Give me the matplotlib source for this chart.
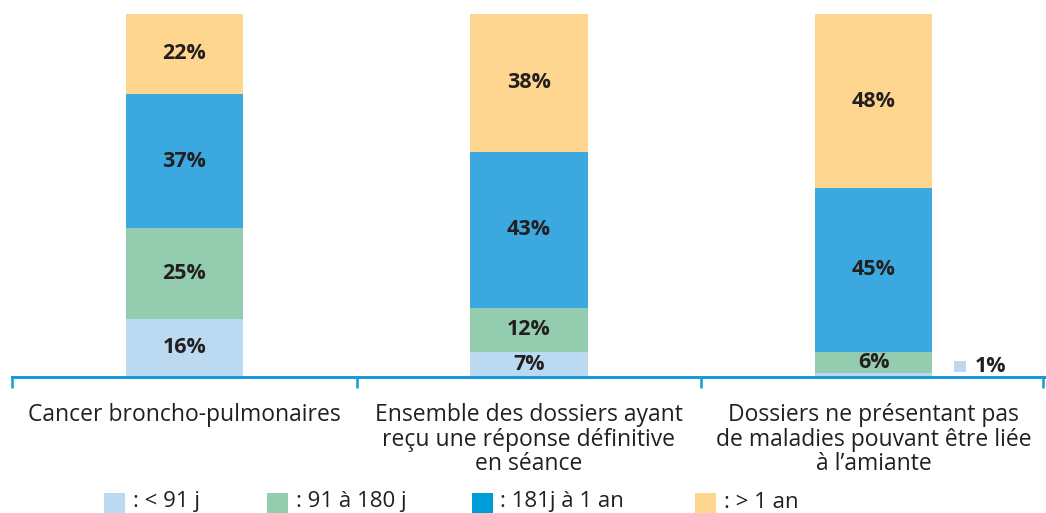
import matplotlib.pyplot as plt
from matplotlib.patches import Rectangle

# -- data ---------------------------------------------------------------
categories = [
    "Cancer broncho-pulmonaires",
    "Ensemble des dossiers ayant\nreçu une réponse définitive\nen séance",
    "Dossiers ne présentant pas\nde maladies pouvant être liée\nà l\u2019amiante",
]
series_names = [": < 91 j", ": 91 à 180 j", ": 181j à 1 an", ": > 1 an"]
lt_91 = [16, 7, 1]
d91_180 = [25, 12, 6]
d181_1an = [37, 43, 45]
gt_1an = [22, 38, 48]
# ------------------------------------------------------------------------

bar_colors = ["#BBDAF2", "#93CCAE", "#3BA8DF", "#FFD68F"]
legend_colors = ["#BBDAF2", "#93CCAE", "#009BD9", "#FFD68F"]
axis_color = "#1A9AD6"
text_color = "#231F20"

plt.rcParams['font.family'] = ['Open Sans', 'DejaVu Sans']

fig = plt.figure(figsize=(10.46, 5.13), dpi=100)
W, H = 1046, 513
ax = fig.add_axes([12 / W, 1 - 377 / H, 1034 / W, (377 - 14) / H])

series = [lt_91, d91_180, d181_1an, gt_1an]
x = list(range(len(categories)))
bottom = [0] * len(categories)
for vals, col in zip(series, bar_colors):
    ax.bar(x, vals, width=0.34, bottom=bottom, color=col, linewidth=0, zorder=2)
    for i, v in enumerate(vals):
        if v >= 5:
            ax.text(i, bottom[i] + v / 2, f"{v}%", ha="center", va="center",
                    fontsize=15.5, fontweight="bold", color=text_color, zorder=3)
    bottom = [b + v for b, v in zip(bottom, vals)]

# small value shown outside the third bar
ax.add_patch(Rectangle((2.233, 1.4), 0.034, 3.0, color=bar_colors[0],
                       clip_on=False, linewidth=0))
ax.text(2.292, 2.9, f"{lt_91[2]}%", ha="left", va="center", fontsize=15.5,
        fontweight="bold", color=text_color)

ax.set_xlim(-0.5, 2.5)
ax.set_ylim(0, 100)
for s in ["top", "right", "left"]:
    ax.spines[s].set_visible(False)
ax.spines["bottom"].set_color(axis_color)
ax.spines["bottom"].set_linewidth(2.2)
ax.set_yticks([])
ax.set_xticks([-0.5, 0.5, 1.5, 2.49])
ax.set_xticklabels([])
ax.tick_params(axis="x", length=8, width=1.8, color=axis_color)

for i, cat in enumerate(categories):
    ax.text(i, -7.2, cat, ha="center", va="top", fontsize=16.5,
            color=text_color, linespacing=1.03)

# legend along the bottom edge
sq_x = [104, 267, 472, 695]
txt_x = [133, 296, 500, 724]
for sx, tx, col, name in zip(sq_x, txt_x, legend_colors, series_names):
    fig.patches.append(Rectangle((sx / W, 0 - 2 / H), 21 / W, 22 / H,
                                 transform=fig.transFigure, color=col,
                                 linewidth=0))
    fig.text(tx / W, 11 / H, name, ha="left", va="center", fontsize=16,
             color=text_color)

fig.savefig("out.png", dpi=100)
